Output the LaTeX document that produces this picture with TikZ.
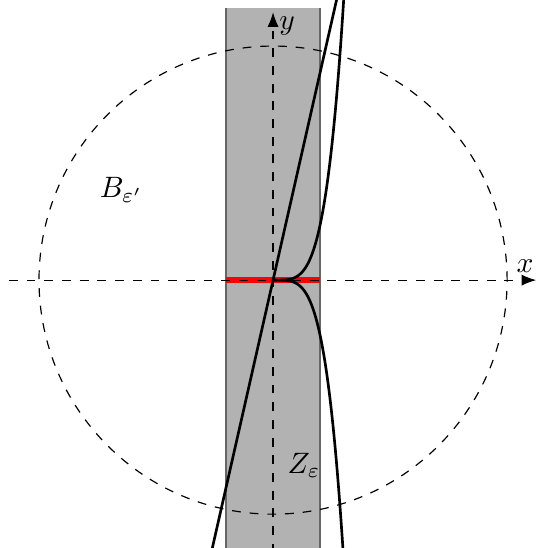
\documentclass[tikz,border=0pt]{standalone}
\usepackage{tikz}
\usetikzlibrary{arrows.meta}

\begin{document}
\begin{tikzpicture}[x=0.56cm,y=0.56cm,
    axis/.style={dashed,-{Latex[length=5pt,width=3.8pt]}},
    graph/.style={black,line width=0.9pt}]
  \useasboundingbox (-5.81,-5.70) rectangle (5.62,5.96);
  \clip (-5.81,-5.70) rectangle (5.62,5.96);
  % strip Z_eps
  \path[fill=black!30] (-1,-6) rectangle (1,5.79);
  \draw[black!60,line width=0.6pt] (-1,-6) -- (-1,5.79);
  \draw[black!60,line width=0.6pt] (1,-6) -- (1,5.79);
  \draw[red,line width=1.9pt] (-1,0) -- (1,0);
  % axes
  \coordinate (xa) at (-5.62,0);
  \coordinate (xb) at (5.60,0);
  \coordinate (ya) at (0,-5.80);
  \coordinate (yb) at (0,5.70);
  \draw[axis] (xa) -- (xb);
  \draw[axis] (ya) -- (yb);
  \node (xlab) at (5.36,0.30) {$x$};
  \node (ylab) at (0.30,5.40) {$y$};
  % ball
  \draw[dashed] (0,0) circle (4.98);
  \node (blab) at (-3.23,1.92) {$B_{\varepsilon'}$};
  \node (zlab) at (0.66,-3.94) {$Z_{\varepsilon}$};
  % graphs
  \draw[graph] (-1.36,-6) -- (1.36,6);
  \draw[graph] plot[domain=0:1.52,samples=80] (\x,{1.17*\x*\x*\x*\x});
  \draw[graph] plot[domain=0:1.52,samples=80] (\x,{-1.17*\x*\x*\x*\x});
\end{tikzpicture}
\end{document}
